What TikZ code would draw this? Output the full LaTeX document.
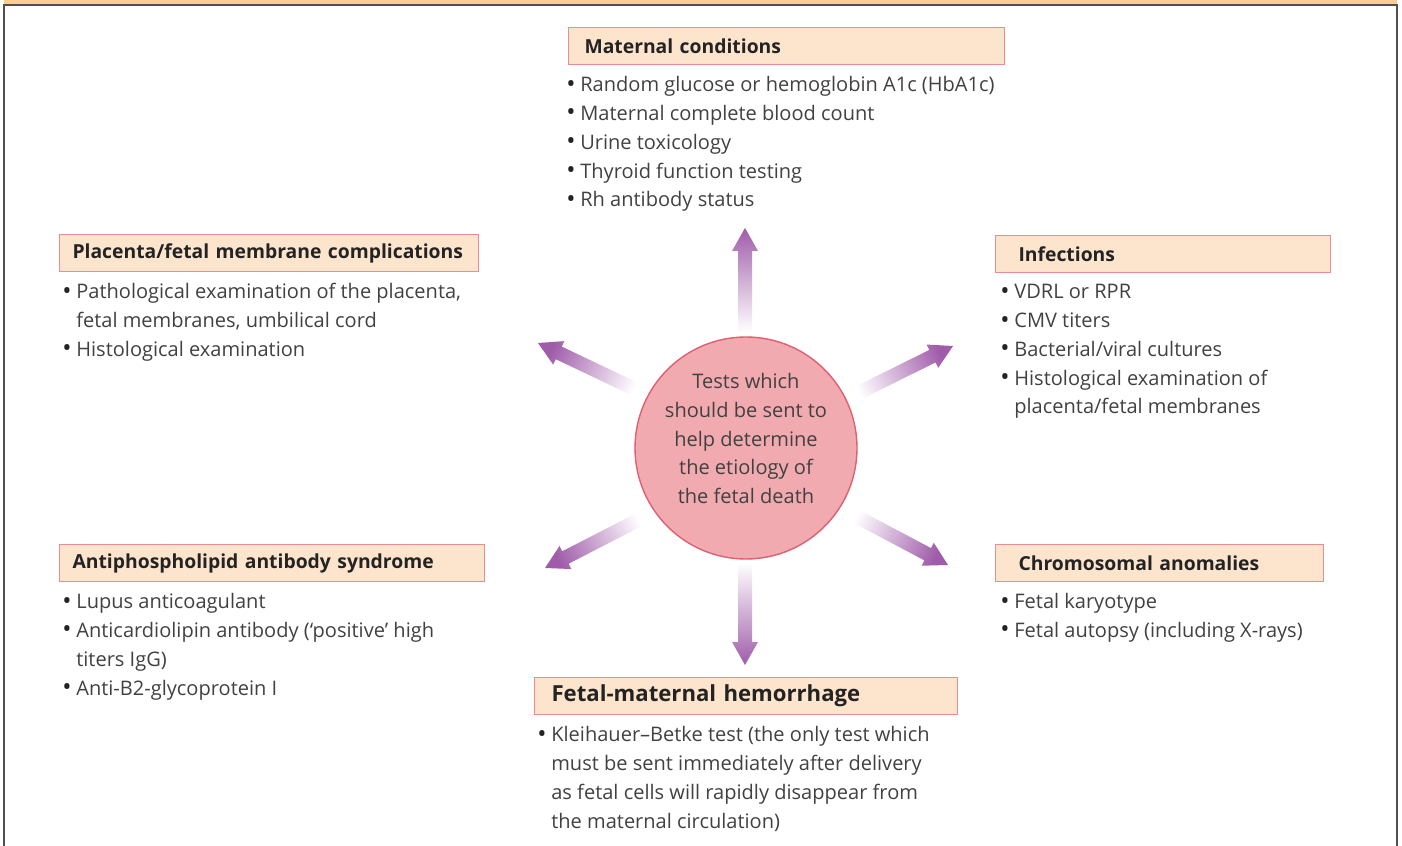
\documentclass[tikz,border=0pt]{standalone}
\usepackage{fontspec}
\setmainfont{Open Sans}
\usetikzlibrary{positioning, calc}
\definecolor{barfill}{RGB}{255,204,145}
\definecolor{framegray}{RGB}{80,80,80}
\definecolor{hdrfill}{RGB}{253,229,205}
\definecolor{hdrborder}{RGB}{236,140,150}
\definecolor{hdrtext}{RGB}{35,35,35}
\definecolor{bodytext}{RGB}{65,65,65}
\definecolor{hubfill}{RGB}{241,170,176}
\definecolor{hubborder}{RGB}{224,96,114}
\definecolor{arrowpurple}{RGB}{160,92,170}

\newcommand{\bl}{\makebox[2.8mm][l]{\raisebox{-0.3pt}{\color{hdrtext}\fontsize{14}{14}\selectfont\textbullet}}}
\newcommand{\ind}{\hspace*{2.8mm}}
% shaded fat arrow: tail, tip, shading angle
\newcommand{\fatarrow}[3]{%
  \coordinate (hb) at ($(#2)!4.6mm!(#1)$);
  \shade[arrowshade, shading angle=#3]
    ($(#1)!1.4mm!90:(#2)$) -- ($(hb)!1.4mm!-90:(#1)$) -- ($(hb)!2.6mm!-90:(#1)$) --
    (#2) -- ($(hb)!2.6mm!90:(#1)$) -- ($(hb)!1.4mm!90:(#1)$) -- ($(#1)!1.4mm!-90:(#2)$) -- cycle;}

\begin{document}
\begin{tikzpicture}[
    x=0.2mm, y=-0.2mm,
    hdr/.style={rectangle, draw=hdrborder, fill=hdrfill, line width=0.6pt, anchor=north west, minimum height=7.4mm, inner xsep=3.2mm, text width=#1, align=left, text=hdrtext, font=\bfseries\fontsize{11}{13}\selectfont},
    list/.style={inner sep=0pt, align=left, text=bodytext, font=\fontsize{11.4}{16.4}\selectfont},
    hub/.style={circle, draw=hubborder, fill=hubfill, line width=0.8pt, minimum size=44.4mm, inner sep=0pt, text depth=3.8mm, align=center, text=bodytext, font=\fontsize{11.4}{16.4}\selectfont},
    arrowshade/.style={top color=arrowpurple, bottom color=white}
]
\useasboundingbox (0,0) rectangle (1402,846);

% frame
\fill[barfill] (4,0) rectangle (1397,5);
\draw[framegray, line width=1pt] (4,846) -- (4,5) -- (1397,5) -- (1397,846);

% hub
\node[hub] (hub) at (746,448) {Tests which\\should be sent to\\help determine\\the etiology of\\the fetal death};

% arrows
\coordinate (upT) at (745,332);   \coordinate (upH) at (745,228);
\coordinate (dnT) at (745,563);   \coordinate (dnH) at (745,665);
\coordinate (ulT) at (643,393);   \coordinate (ulH) at (538,343);
\coordinate (urT) at (850,397);   \coordinate (urH) at (953,346);
\coordinate (llT) at (648,515);   \coordinate (llH) at (545,568);
\coordinate (lrT) at (848,512);   \coordinate (lrH) at (948,565);
\fatarrow{upT}{upH}{0}
\fatarrow{dnT}{dnH}{180}
\fatarrow{ulT}{ulH}{64.5}
\fatarrow{urT}{urH}{-63.7}
\fatarrow{llT}{llH}{117.2}
\fatarrow{lrT}{lrH}{-117.9}

% Maternal conditions
\node[hdr=80.8mm] (mat) at (568,27) {Maternal conditions};
\node[list, below=2.2mm of mat.south west, anchor=north west, xshift=-0.4mm] (matL) {\bl Random glucose or hemoglobin A1c (HbA1c)\\\bl Maternal complete blood count\\\bl Urine toxicology\\\bl Thyroid function testing\\\bl Rh antibody status};

% Placenta
\node[hdr=78.6mm, inner xsep=2.6mm] (plac) at (59,234) {Placenta/fetal membrane complications};
\node[list, below=2.2mm of plac.south west, anchor=north west, xshift=0.6mm] (placL) {\bl Pathological examination of the placenta,\\\ind fetal membranes, umbilical cord\\\bl Histological examination};

% Infections
\node[hdr=57.8mm, inner xsep=4.6mm] (inf) at (995,235) {Infections};
\node[list, below=2.2mm of inf.south west, anchor=north west, xshift=1mm] (infL) {\bl VDRL or RPR\\\bl CMV titers\\\bl Bacterial/viral cultures\\\bl Histological examination of\\\ind placenta/fetal membranes};

% Antiphospholipid
\node[hdr=79.8mm, inner xsep=2.6mm] (anti) at (59,544) {Antiphospholipid antibody syndrome};
\node[list, below=2.2mm of anti.south west, anchor=north west, xshift=0.6mm] (antiL) {\bl Lupus anticoagulant\\\bl Anticardiolipin antibody (`positive' high\\\ind titers IgG)\\\bl Anti-B2-glycoprotein I};

% Chromosomal
\node[hdr=56.4mm, inner xsep=4.6mm] (chrom) at (995,544) {Chromosomal anomalies};
\node[list, below=2.2mm of chrom.south west, anchor=north west, xshift=1mm] (chromL) {\bl Fetal karyotype\\\bl Fetal autopsy (including X-rays)};

% Fetal-maternal hemorrhage
\node[hdr=77.8mm, font=\bfseries\fontsize{12.6}{14}\selectfont, inner xsep=3.4mm] (fmh) at (534,677) {Fetal-maternal hemorrhage};
\node[list, below=2.2mm of fmh.south west, anchor=north west, xshift=0.6mm] (fmhL) {\bl Kleihauer--Betke test (the only test which\\\ind must be sent immediately after delivery\\\ind as fetal cells will rapidly disappear from\\\ind the maternal circulation)};

\end{tikzpicture}
\end{document}
